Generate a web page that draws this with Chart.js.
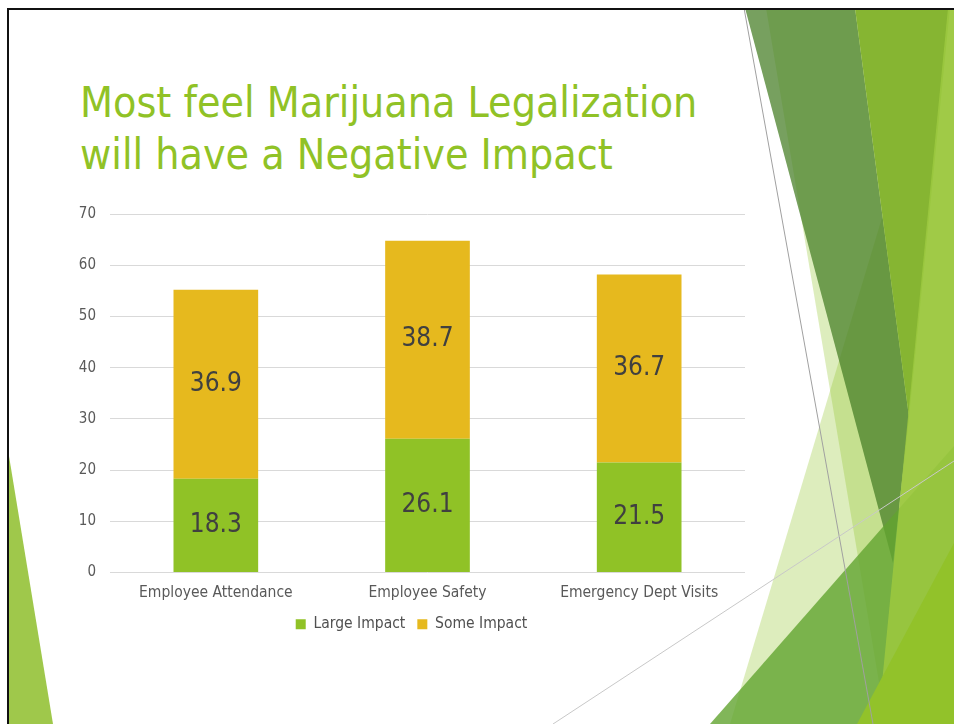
<!DOCTYPE html>
<html>
<head>
<meta charset="utf-8">
<script src="https://cdn.jsdelivr.net/npm/chart.js@4.4.1/dist/chart.umd.min.js"></script>
<style>
  html, body { margin: 0; padding: 0; background: #fff; }
  #slide { position: relative; width: 954px; height: 724px; overflow: hidden; }
  #deco { position: absolute; left: 0; top: 0; }
  #chart { position: absolute; left: 0; top: 0; }
  #title {
    position: absolute; left: 80px; top: 77px; margin: 0;
    font-family: "DejaVu Sans Condensed", "DejaVu Sans", sans-serif;
    font-weight: normal; font-size: 42.5px; line-height: 52px; color: #90c226;
  }
</style>
</head>
<body>
<div id="slide">
  <svg id="deco" width="954" height="724" viewBox="0 0 954 724">
    <!-- facet theme shapes, right side -->
    <polygon points="766,8 954,8 954,724 886,724" fill="#90c226" fill-opacity="0.3"/>
    <polygon points="730,724 945,8 954,8 954,724" fill="#90c226" fill-opacity="0.3"/>
    <polygon points="745,8 855,8 909,417 893,563" fill="#477f27" fill-opacity="0.74"/>
    <polygon points="855,8 950,8 909,417" fill="#86b532"/>
    <polygon points="710,724 954,446 954,724" fill="#61a42f" fill-opacity="0.8"/>
    <polygon points="948,8 954,8 954,724 878,724" fill="#9bc83f" fill-opacity="0.9"/>
    <polygon points="857,724 954,543 954,724" fill="#92c22a"/>
    <line x1="744" y1="8" x2="873" y2="724" stroke="#a0a0a0" stroke-width="1"/>
    <line x1="553" y1="724" x2="954" y2="461" stroke="#c8c8c8" stroke-width="1"/>
    <!-- left side -->
    <polygon points="8,450 53,724 8,724" fill="#9fc84b"/>
    <!-- slide border -->
    <line x1="7" y1="9" x2="954" y2="9" stroke="#111" stroke-width="2"/>
    <line x1="8" y1="8" x2="8" y2="724" stroke="#111" stroke-width="2"/>
  </svg>
  <h1 id="title">Most feel Marijuana Legalization<br>will have a Negative Impact</h1>
  <canvas id="chart" width="954" height="724"></canvas>
</div>
<script>
const categories = ["Employee Attendance", "Employee Safety", "Emergency Dept Visits"];
const largeImpact = [18.3, 26.1, 21.5];
const someImpact = [36.9, 38.7, 36.7];
const yMin = 0;
const yMax = 70;
const yStep = 10;

const FONT = "'DejaVu Sans Condensed', 'DejaVu Sans', sans-serif";

// values written in the middle of every stacked segment
const segmentLabelPlugin = {
  id: "segmentLabels",
  afterDatasetsDraw(chart, _args, options) {
    const ctx = chart.ctx;
    ctx.save();
    ctx.font = `${options.size || 26}px ${FONT}`;
    ctx.fillStyle = options.color || "#404040";
    ctx.textAlign = "center";
    ctx.textBaseline = "middle";
    chart.data.datasets.forEach((dataset, di) => {
      const meta = chart.getDatasetMeta(di);
      if (meta.hidden) {
        return;
      }
      meta.data.forEach((bar, i) => {
        const { x, y, base } = bar.getProps(["x", "y", "base"], true);
        ctx.fillText(dataset.data[i].toFixed(1), x, (y + base) / 2);
      });
    });
    ctx.restore();
  },
};

new Chart(document.getElementById("chart").getContext("2d"), {
  type: "bar",
  plugins: [segmentLabelPlugin],
  data: {
    labels: categories,
    datasets: [
      {
        label: "Large Impact",
        data: largeImpact,
        backgroundColor: "#90c226",
        borderWidth: 0,
      },
      {
        label: "Some Impact",
        data: someImpact,
        backgroundColor: "#e6b91e",
        borderWidth: 0,
      },
    ],
  },
  options: {
    responsive: false,
    animation: false,
    layout: {
      padding: { top: 214, right: 209, bottom: 82, left: 78 },
    },
    datasets: {
      bar: { categoryPercentage: 1, barPercentage: 0.4 },
    },
    plugins: {
      legend: {
        position: "bottom",
        labels: {
          boxWidth: 10,
          boxHeight: 10,
          padding: 12,
          color: "#505050",
          font: { family: FONT, size: 15.5 },
        },
      },
      tooltip: { enabled: false },
      segmentLabels: { size: 26, color: "#404040" },
    },
    scales: {
      x: {
        stacked: true,
        grid: { display: false, drawTicks: false },
        border: { display: false },
        ticks: {
          color: "#595959",
          padding: 11,
          font: { family: FONT, size: 15.5 },
        },
        afterFit(scale) {
          scale.height = 32;
        },
      },
      y: {
        stacked: true,
        min: yMin,
        max: yMax,
        grid: { color: "#d9d9d9", lineWidth: 1, drawTicks: false },
        border: { display: false },
        ticks: {
          stepSize: yStep,
          color: "#595959",
          padding: 14,
          font: { family: FONT, size: 15 },
        },
        afterFit(scale) {
          scale.width = 32;
        },
      },
    },
  },
});
</script>
</body>
</html>
